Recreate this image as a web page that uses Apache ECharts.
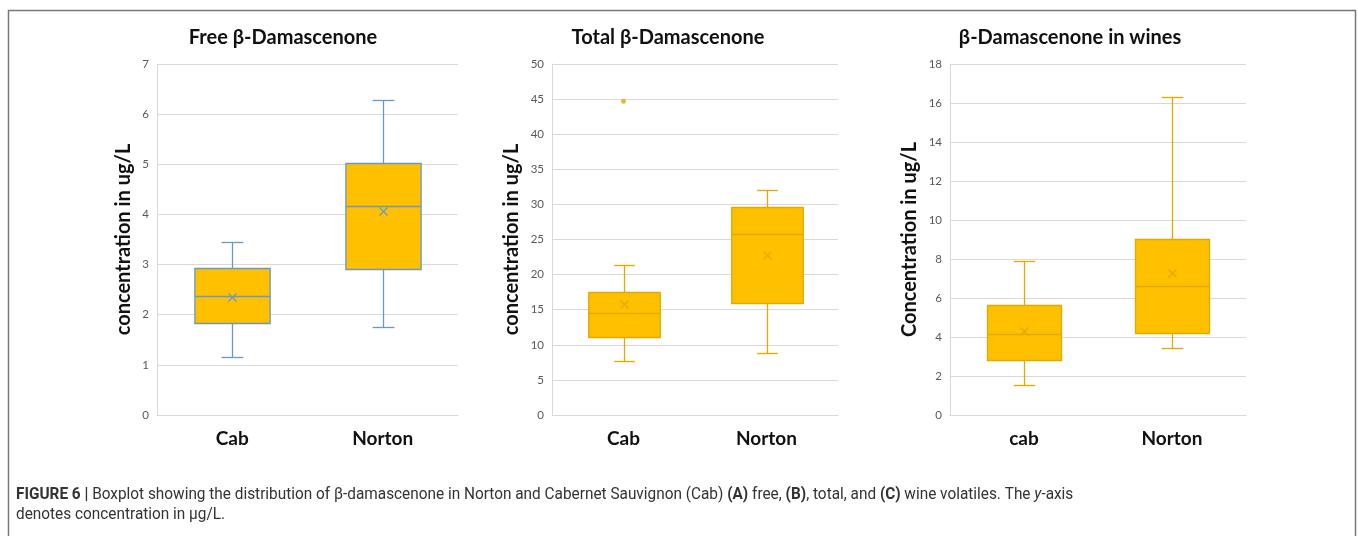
<!DOCTYPE html>
<html>
<head>
<meta charset="utf-8">
<title>β-Damascenone boxplots</title>
<script src="https://cdn.jsdelivr.net/npm/echarts@6/dist/echarts.min.js"></script>
<style>
  html, body { margin: 0; padding: 0; background: #fff; }
  #chart { width: 1358px; height: 536px; }
</style>
</head>
<body>
<div id="chart"></div>
<script>
// Summary statistics per cultivar: [min, Q1, median, Q3, max]
const freeCategories = ['Cab', 'Norton'];
const freeStats = [
  [1.15, 1.83, 2.38, 2.93, 3.45],
  [1.76, 2.91, 4.16, 5.02, 6.28]
];
const freeMeans = [2.36, 4.06];

const totalCategories = ['Cab', 'Norton'];
const totalStats = [
  [7.74, 11.16, 14.57, 17.48, 21.41],
  [8.78, 16.0, 25.74, 29.58, 32.05]
];
const totalMeans = [15.81, 22.74];
const totalOutliers = [[0, 44.7]];

const wineCategories = ['cab', 'Norton'];
const wineStats = [
  [1.52, 2.84, 4.15, 5.64, 7.91],
  [3.42, 4.22, 6.63, 9.04, 16.31]
];
const wineMeans = [4.32, 7.27];

// Axis ranges: [max, interval]
const freeAxis = [7, 1];
const totalAxis = [50, 5];
const wineAxis = [18, 2];

const FONT = 'Lato, "Noto Sans", sans-serif';
const CAPTION_FONT = 'Roboto, "Liberation Sans", sans-serif';
const GOLD = '#FFC000';
const BLUE_LINE = '#6A98C8';
const GOLD_LINE = '#E2A900';

function boxData(stats, means) {
  return stats.map((s, i) => [i].concat(s, [means[i]]));
}

// Box, whiskers with short caps, median line and a cross at the mean
function makeRenderer(lineColor) {
  return function (params, api) {
    const idx = api.value(0);
    const vals = [1, 2, 3, 4, 5, 6].map(k => api.value(k));
    const pts = vals.map(v => api.coord([idx, v]));
    const band = api.size([1, 0])[0];
    const bw = band * 0.5;
    const cw = band * 0.145;
    const cx = Math.round(pts[0][0]) + 0.5;
    const [pMin, pQ1, pMed, pQ3, pMax, pMean] = pts.map(p => Math.round(p[1]) + 0.5);
    const ls = { stroke: lineColor, lineWidth: 1.3 };
    const line = (x1, y1, x2, y2) => ({ type: 'line', shape: { x1, y1, x2, y2 }, style: ls });
    const m = 4;
    return {
      type: 'group',
      children: [
        line(cx, pQ3, cx, pMax),
        line(cx - cw / 2, pMax, cx + cw / 2, pMax),
        line(cx, pQ1, cx, pMin),
        line(cx - cw / 2, pMin, cx + cw / 2, pMin),
        {
          type: 'rect',
          shape: { x: cx - bw / 2, y: pQ3, width: bw, height: pQ1 - pQ3 },
          style: { fill: GOLD, stroke: lineColor, lineWidth: 1.3 }
        },
        line(cx - bw / 2, pMed, cx + bw / 2, pMed),
        line(cx - m, pMean - m, cx + m, pMean + m),
        line(cx - m, pMean + m, cx + m, pMean - m)
      ]
    };
  };
}

const grids = [
  { left: 157, top: 64, width: 301, height: 351 },
  { left: 552, top: 64, width: 286, height: 351 },
  { left: 950, top: 64, width: 296, height: 351 }
];

const titles = [
  { text: 'Free β-Damascenone', center: 283 },
  { text: 'Total β-Damascenone', center: 668 },
  { text: 'β-Damascenone in wines', center: 1070 }
];

const yNames = ['concentration in ug/L', 'concentration in ug/L', 'Concentration in ug/L'];
const yAxes = [freeAxis, totalAxis, wineAxis];
const cats = [freeCategories, totalCategories, wineCategories];
const nameGaps = [23, 30, 30];

const option = {
  animation: false,
  backgroundColor: '#fff',
  title: titles.map(t => ({
    text: t.text,
    left: t.center,
    top: 28,
    textAlign: 'center',
    padding: 0,
    textStyle: { fontFamily: FONT, fontWeight: 'bold', fontSize: 20, color: '#111' }
  })),
  grid: grids,
  xAxis: cats.map((c, i) => ({
    type: 'category',
    gridIndex: i,
    data: c,
    axisLine: { lineStyle: { color: '#D9D9D9', width: 1 } },
    axisTick: { show: false },
    axisLabel: { fontFamily: FONT, fontWeight: 'bold', fontSize: 19, color: '#111', margin: 14 },
    splitLine: { show: false }
  })),
  yAxis: yAxes.map((a, i) => ({
    type: 'value',
    gridIndex: i,
    min: 0,
    max: a[0],
    interval: a[1],
    name: yNames[i],
    nameLocation: 'middle',
    nameRotate: 90,
    nameGap: nameGaps[i],
    nameTextStyle: { fontFamily: FONT, fontWeight: 'bold', fontSize: 20, color: '#111' },
    axisLine: { show: true, lineStyle: { color: '#D9D9D9', width: 1 } },
    axisTick: { show: false },
    axisLabel: { fontFamily: FONT, fontSize: 11.5, color: '#595959', margin: 8 },
    splitLine: { lineStyle: { color: '#D9D9D9', width: 1 } }
  })),
  series: [
    {
      type: 'custom', xAxisIndex: 0, yAxisIndex: 0,
      renderItem: makeRenderer(BLUE_LINE),
      encode: { x: 0, y: [1, 2, 3, 4, 5] },
      data: boxData(freeStats, freeMeans)
    },
    {
      type: 'custom', xAxisIndex: 1, yAxisIndex: 1,
      renderItem: makeRenderer(GOLD_LINE),
      encode: { x: 0, y: [1, 2, 3, 4, 5] },
      data: boxData(totalStats, totalMeans)
    },
    {
      type: 'scatter', xAxisIndex: 1, yAxisIndex: 1,
      symbol: 'circle', symbolSize: 5,
      itemStyle: { color: GOLD_LINE },
      data: totalOutliers
    },
    {
      type: 'custom', xAxisIndex: 2, yAxisIndex: 2,
      renderItem: makeRenderer(GOLD_LINE),
      encode: { x: 0, y: [1, 2, 3, 4, 5] },
      data: boxData(wineStats, wineMeans)
    }
  ],
  graphic: [
    {
      type: 'rect',
      shape: { x: 8.5, y: 10.5, width: 1347, height: 540 },
      style: { fill: 'none', stroke: '#777', lineWidth: 1.5 },
      silent: true
    },
    {
      // Figure caption, set slightly condensed
      type: 'text',
      x: 16,
      y: 485,
      scaleX: 0.904,
      style: {
        text: '{b|FIGURE 6 |} Boxplot showing the distribution of β-damascenone in Norton and Cabernet Sauvignon (Cab) {b|(A)} free, {b|(B)}, total, and {b|(C)} wine volatiles. The {i|y}-axis\ndenotes concentration in μg/L.',
        font: '17px ' + CAPTION_FONT,
        fill: '#333',
        lineHeight: 20,
        rich: {
          b: { fontWeight: 'bold', fontFamily: CAPTION_FONT, fontSize: 17, fill: '#333', lineHeight: 20 },
          i: { fontStyle: 'italic', fontFamily: CAPTION_FONT, fontSize: 17, fill: '#333', lineHeight: 20 }
        }
      }
    }
  ]
};

const chart = echarts.init(document.getElementById('chart'), null, { renderer: 'canvas' });
chart.setOption(option);
</script>
</body>
</html>
